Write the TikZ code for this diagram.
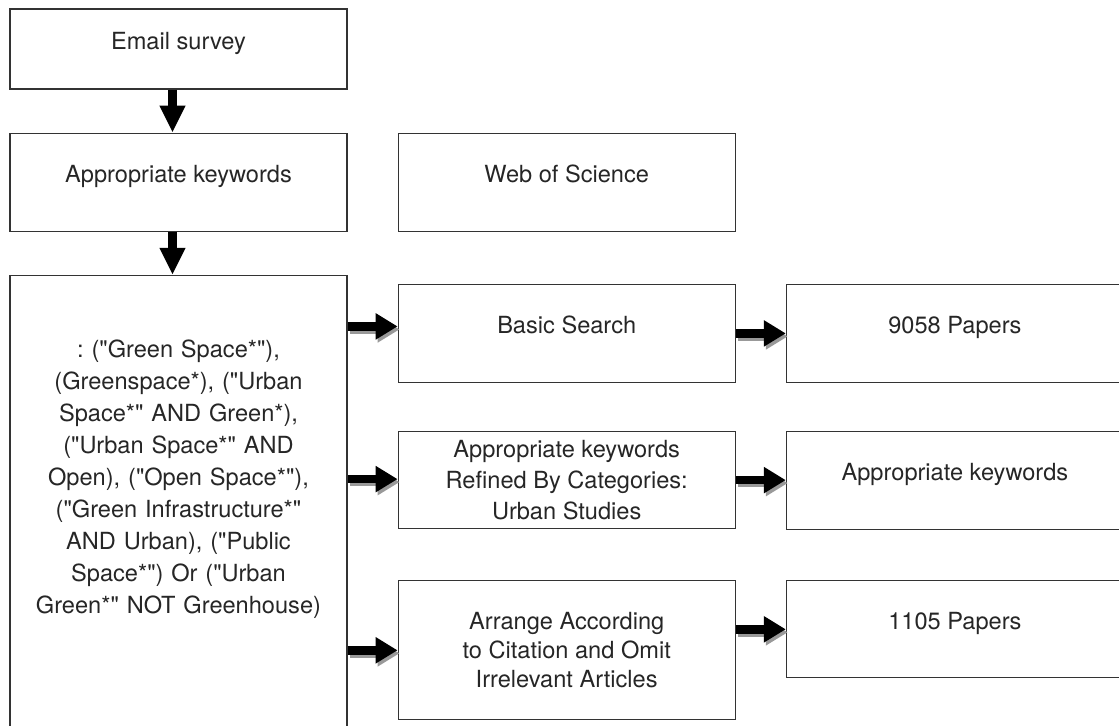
\documentclass[tikz,border=0pt]{standalone}
\usepackage{fontspec}
\setmainfont{TeX Gyre Heros}[Ligatures=TeXOff]
\usepackage{tikz}
\usetikzlibrary{positioning,arrows.meta}

\begin{document}
\begin{tikzpicture}[x=0.5pt, y=-0.5pt,
	box/.style={draw=black!80, line width=0.6pt, text=black!85, minimum width=168.5pt, minimum height=49pt, inner sep=2pt, align=center, font=\fontsize{11.8pt}{15.5pt}\selectfont},
	lift/.style={text height=8.5pt, text depth=8pt},
	flow/.style={line width=4.3pt, -{Triangle[length=11pt, width=12.5pt]}},
	flowshade/.style={flow, draw=black!40, transform canvas={shift={(1pt,-1.5pt)}}}]
\useasboundingbox (0,0) rectangle (1119,725);
\node[box, lift, minimum height=40pt] (email) at (178.5,49) {Email survey};
\node[box, lift, below=21.5pt of email] (kw) {Appropriate keywords};
\node[box, below=21.5pt of kw, text width=162pt, text height=39pt, text depth=193pt, font=\fontsize{11.8pt}{16pt}\selectfont\frenchspacing] (big) {: ("Green Space*"),\\
	(Greenspace*), ("Urban\\
	Space*" AND Green*),\\
	("Urban Space*" AND\\
	Open), ("Open Space*"),\\
	("Green Infrastructure*"\\
	AND Urban), ("Public\\
	Space*") Or ("Urban\\
	Green*" NOT Greenhouse)};
\node[box, lift, right=25pt of kw] (wos) {Web of Science};
\node[box, lift, below=26pt of wos] (basic) {Basic Search};
\node[box, below=24pt of basic, minimum height=48.5pt] (refined) {Appropriate keywords\\
	Refined By Categories:\\
	Urban Studies};
\node[box, below=25.5pt of refined, minimum height=69.5pt, font=\fontsize{11.8pt}{14.5pt}\selectfont] (arrange) {Arrange According\\
	to Citation and Omit\\
	Irrelevant Articles};
\node[box, lift, right=25pt of basic] (papersA) {9058 Papers};
\node[box, lift, right=25pt of refined] (kwR) {Appropriate keywords};
\node[box, lift, right=25pt of arrange.north east, anchor=north west, minimum height=48.5pt] (papersB) {1105 Papers};
\draw[flow, -{Triangle[length=13.5pt, width=12pt]}] ([xshift=-3pt]email.south) -- ([xshift=-3pt]kw.north);
\draw[flow, -{Triangle[length=13.5pt, width=12pt]}] ([xshift=-3pt]kw.south) -- ([xshift=-3pt]big.north);
\foreach \t/\dy in {basic/3.5pt,refined/0.5pt,arrange/0pt}{
	\draw[flowshade] ([yshift=\dy]big.east |- \t.west) -- ([yshift=\dy]\t.west);
	\draw[flow] ([yshift=\dy]big.east |- \t.west) -- ([yshift=\dy]\t.west);
}
\foreach \s/\t in {basic/papersA,refined/kwR,arrange/papersB}{
	\draw[flowshade] (\s.east |- \t.west) -- (\t.west);
	\draw[flow] (\s.east |- \t.west) -- (\t.west);
}
\end{tikzpicture}
\end{document}
